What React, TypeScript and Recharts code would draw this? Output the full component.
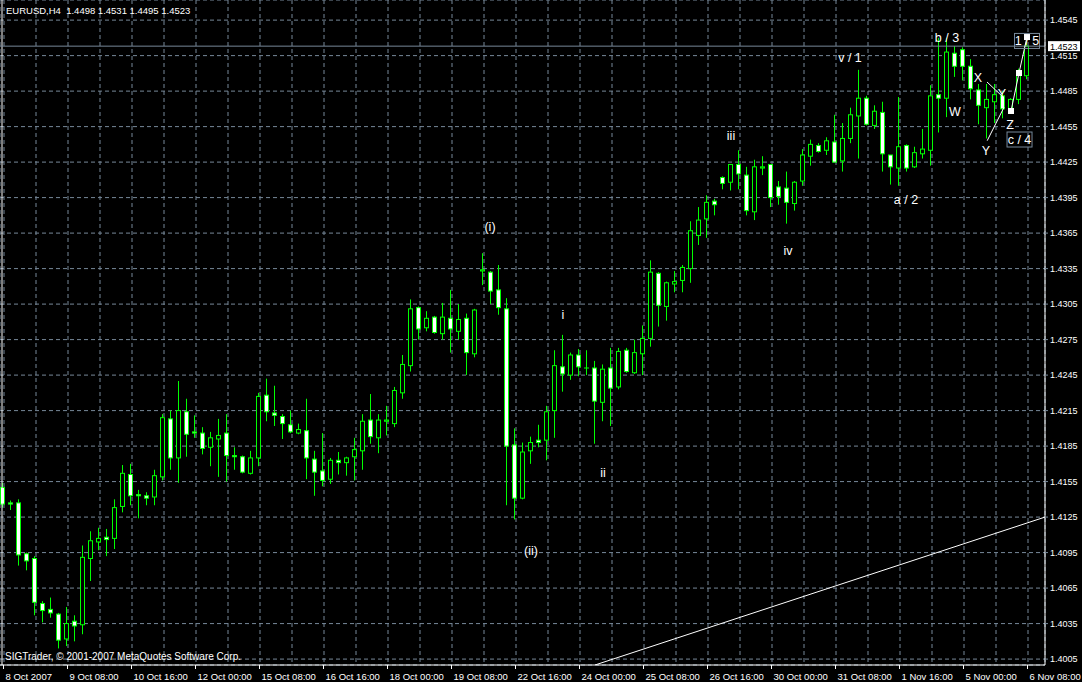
import React from 'react';
import { ComposedChart, Bar, XAxis, YAxis, CartesianGrid, ReferenceLine, ReferenceDot } from 'recharts';

const opens = [1.4150,1.4137,1.4137,1.4094,1.4090,1.4052,1.4047,1.4043,1.4022,1.4037,
1.4034,1.4090,1.4104,1.4108,1.4107,1.4134,1.4161,1.4144,1.4143,1.4142,
1.4159,1.4208,1.4175,1.4214,1.4197,1.4196,1.4184,1.4191,1.4196,1.4177,
1.4176,1.4162,1.4175,1.4228,1.4213,1.4210,1.4203,1.4196,1.4198,1.4174,
1.4164,1.4157,1.4173,1.4171,1.4176,1.4181,1.4207,1.4192,1.4206,1.4204,
1.4230,1.4253,1.4302,1.4285,1.4294,1.4280,1.4293,1.4282,1.4293,1.4263,
1.4333,1.4332,1.4317,1.4301,1.4186,1.4141,1.4181,1.4190,1.4190,1.4215,
1.4252,1.4245,1.4262,1.4251,1.4251,1.4222,1.4251,1.4235,1.4266,1.4247,
1.4263,1.4276,1.4331,1.4303,1.4322,1.4325,1.4335,1.4363,1.4377,1.4392,
1.4412,1.4408,1.4423,1.4414,1.4383,1.4420,1.4423,1.4404,1.4403,1.4390,
1.4409,1.4430,1.4439,1.4435,1.4442,1.4426,1.4445,1.4464,1.4479,1.4456,
1.4467,1.4431,1.4420,1.4439,1.4421,1.4432,1.4435,1.4482,1.4479,1.4517,
1.4520,1.4506,1.4486,1.4471,1.4476,1.4481,1.4469,1.4478,1.4498];

const highs = [1.4154,1.4139,1.4140,1.4095,1.4092,1.4054,1.4057,1.4044,1.4049,1.4042,
1.4101,1.4113,1.4116,1.4115,1.4140,1.4169,1.4170,1.4148,1.4146,1.4165,
1.4212,1.4215,1.4240,1.4225,1.4211,1.4201,1.4197,1.4208,1.4212,1.4184,
1.4177,1.4181,1.4230,1.4242,1.4236,1.4212,1.4215,1.4204,1.4225,1.4181,
1.4196,1.4175,1.4180,1.4176,1.4192,1.4212,1.4229,1.4212,1.4219,1.4235,
1.4262,1.4309,1.4303,1.4299,1.4295,1.4306,1.4317,1.4305,1.4297,1.4301,
1.4348,1.4333,1.4338,1.4310,1.4200,1.4188,1.4193,1.4203,1.4219,1.4266,
1.4279,1.4264,1.4267,1.4266,1.4257,1.4254,1.4268,1.4268,1.4268,1.4275,
1.4287,1.4342,1.4332,1.4324,1.4333,1.4338,1.4375,1.4387,1.4397,1.4394,
1.4413,1.4423,1.4435,1.4421,1.4427,1.4430,1.4423,1.4409,1.4417,1.4409,
1.4436,1.4444,1.4441,1.4446,1.4465,1.4458,1.4471,1.4503,1.4481,1.4473,
1.4476,1.4431,1.4480,1.4440,1.4438,1.4453,1.4490,1.4530,1.4530,1.4523,
1.4522,1.4512,1.4491,1.4491,1.4491,1.4485,1.4479,1.4504,1.4531];

const lows = [1.4133,1.4131,1.4084,1.4080,1.4042,1.4036,1.4040,1.4014,1.4016,1.4020,
1.4026,1.4071,1.4097,1.4092,1.4098,1.4129,1.4135,1.4124,1.4135,1.4135,
1.4156,1.4165,1.4154,1.4176,1.4192,1.4178,1.4168,1.4159,1.4155,1.4165,
1.4162,1.4161,1.4168,1.4206,1.4202,1.4191,1.4196,1.4195,1.4157,1.4143,
1.4151,1.4153,1.4161,1.4160,1.4156,1.4165,1.4187,1.4179,1.4194,1.4201,
1.4225,1.4248,1.4275,1.4282,1.4280,1.4275,1.4264,1.4275,1.4245,1.4260,
1.4321,1.4305,1.4296,1.4135,1.4123,1.4140,1.4170,1.4184,1.4173,1.4192,
1.4231,1.4241,1.4244,1.4245,1.4187,1.4206,1.4202,1.4233,1.4247,1.4246,
1.4245,1.4269,1.4286,1.4291,1.4315,1.4315,1.4323,1.4355,1.4361,1.4380,
1.4402,1.4401,1.4402,1.4380,1.4376,1.4414,1.4387,1.4389,1.4373,1.4384,
1.4405,1.4422,1.4433,1.4431,1.4425,1.4417,1.4441,1.4428,1.4456,1.4453,
1.4417,1.4406,1.4405,1.4417,1.4420,1.4428,1.4422,1.4450,1.4463,1.4497,
1.4494,1.4478,1.4457,1.4445,1.4458,1.4462,1.4467,1.4474,1.4495];

const closes = [1.4136,1.4136,1.4093,1.4088,1.4053,1.4046,1.4044,1.4021,1.4035,1.4033,
1.4091,1.4105,1.4107,1.4106,1.4133,1.4162,1.4143,1.4143,1.4141,1.4160,
1.4209,1.4175,1.4215,1.4195,1.4196,1.4183,1.4192,1.4194,1.4177,1.4176,
1.4163,1.4175,1.4227,1.4214,1.4211,1.4204,1.4197,1.4199,1.4175,1.4163,
1.4156,1.4173,1.4171,1.4175,1.4182,1.4206,1.4193,1.4207,1.4207,1.4232,
1.4254,1.4301,1.4284,1.4293,1.4281,1.4294,1.4284,1.4292,1.4264,1.4300,
1.4334,1.4316,1.4302,1.4185,1.4141,1.4180,1.4188,1.4188,1.4214,1.4253,
1.4246,1.4262,1.4252,1.4251,1.4223,1.4250,1.4234,1.4265,1.4248,1.4264,
1.4276,1.4332,1.4304,1.4323,1.4324,1.4336,1.4367,1.4376,1.4391,1.4389,
1.4407,1.4423,1.4415,1.4384,1.4421,1.4421,1.4395,1.4396,1.4391,1.4408,
1.4431,1.4440,1.4434,1.4443,1.4425,1.4445,1.4465,1.4479,1.4457,1.4468,
1.4432,1.4421,1.4438,1.4420,1.4433,1.4436,1.4481,1.4479,1.4518,1.4506,
1.4506,1.4487,1.4473,1.4478,1.4482,1.4470,1.4478,1.4501,1.4523];

const labelBars = [0, 8, 16, 24, 32, 40, 48, 56, 64, 72, 80, 88, 96, 104, 112, 120, 128];
const labelTexts = ['8 Oct 2007', '9 Oct 08:00', '10 Oct 16:00', '12 Oct 00:00', '15 Oct 08:00',
  '16 Oct 16:00', '18 Oct 00:00', '19 Oct 08:00', '22 Oct 16:00', '24 Oct 00:00', '25 Oct 08:00',
  '26 Oct 16:00', '30 Oct 00:00', '31 Oct 08:00', '1 Nov 16:00', '5 Nov 00:00', '6 Nov 08:00'];
const gridBars = [0,4,8,12,16,20,24,28,32,36,40,44,48,52,56,60,64,68,72,76,80,84,88,92,96,100,104,108,112,116,120,124,128];
const priceTicks = [1.4005,1.4035,1.4065,1.4095,1.4125,1.4155,1.4185,1.4215,1.4245,1.4275,
  1.4305,1.4335,1.4365,1.4395,1.4425,1.4455,1.4485,1.4515,1.4545];

const waveTexts = ['(i)', '(ii)', 'i', 'ii', 'iii', 'iv', 'v / 1', 'a / 2', 'b / 3', 'W', 'X', 'Y', 'Y', 'Z'];
const waveX = [60.75, 65.875, 69.875, 74.875, 90.875, 98, 105.75, 112.75, 117.875, 118.875, 121.75, 122.75, 124.75, 125.75];
const waveY = [1.4371, 1.40964, 1.42966, 1.41631, 1.44479, 1.43507, 1.45138, 1.43938, 1.45307, 1.44674, 1.44961, 1.44344, 1.44834, 1.44572];
const boxTexts = ['c / 4', '1 / 5'];
const boxX = [126.94, 127.875];
const boxY = [1.44441, 1.45274];
const pathX = [125.875, 126.875, 127.875];
const pathY = [1.44682, 1.45003, 1.45307];

const bidPrice = 1.4523;
const trendStart = { x: 73.875, y: 1.4000 };
const trendEnd = { x: 130.125, y: 1.4125 };

const data = opens.map((o, i) => ({
  i,
  open: o,
  high: highs[i],
  low: lows[i],
  close: closes[i],
  range: [lows[i], highs[i]],
}));

const GREEN = '#00ff00';
const GRID = '#778899';
const FONT = '"Liberation Sans", Arial, sans-serif';

const Candle = (props: any) => {
  const { x, y, width, height, payload } = props;
  if (payload == null) return null;
  const { open, close, high, low } = payload;
  const cx = Math.floor(x + width / 2) - 0.5;
  const toY = (p: number) => (high === low ? y : y + ((high - p) / (high - low)) * height);
  const yo = toY(open);
  const yc = toY(close);
  const top = Math.min(yo, yc);
  const bot = Math.max(yo, yc);
  const bear = close < open;
  return (
    <g>
      <line x1={cx} x2={cx} y1={y} y2={y + height} stroke={GREEN} strokeWidth={1} />
      <rect x={cx - 2} y={top} width={4} height={Math.max(bot - top, 0.01)}
        fill={bear ? '#ffffff' : '#000000'} stroke={GREEN} strokeWidth={1} />
    </g>
  );
};

const XTick = (props: any) => {
  const { x, y, payload } = props;
  const idx = labelBars.indexOf(payload.value);
  if (idx < 0) return null;
  const px = Math.floor(x) - 0.5;
  return (
    <g>
      <line x1={px} x2={px} y1={y - 4} y2={y} stroke="#ffffff" strokeWidth={1} />
      <text x={px + 2} y={y + 11} fill="#ffffff" fontSize={9.5} fontFamily={FONT} textAnchor="start">
        {labelTexts[idx]}
      </text>
    </g>
  );
};

const plainLabel = (value: string) => (props: any) => {
  const vb = props.viewBox || {};
  const cx = (vb.x || 0) + (vb.width || 0) / 2;
  const cy = (vb.y || 0) + (vb.height || 0) / 2;
  return (
    <text x={cx} y={cy + 4.5} fill="#ffffff" fontSize={12.5} fontFamily={FONT} textAnchor="middle">
      {value}
    </text>
  );
};

const boxLabel = (value: string) => (props: any) => {
  const vb = props.viewBox || {};
  const cx = (vb.x || 0) + (vb.width || 0) / 2;
  const cy = (vb.y || 0) + (vb.height || 0) / 2;
  return (
    <g>
      <rect x={cx - 12.5} y={cy - 7.5} width={25} height={15} fill="none" stroke={GRID} strokeWidth={1} />
      <text x={cx} y={cy + 4.5} fill="#ffffff" fontSize={12.5} fontFamily={FONT} textAnchor="middle">
        {value}
      </text>
    </g>
  );
};

const bidLabel = (props: any) => {
  const vb = props.viewBox || {};
  const right = (vb.x || 0) + (vb.width || 0);
  const cy = vb.y || 0;
  return (
    <g>
      <rect x={right + 3} y={cy - 5} width={32} height={10} fill="#ffffff" />
      <text x={right + 5} y={cy + 3.5} fill="#000000" fontSize={9} fontFamily={FONT} textAnchor="start">
        {bidPrice.toFixed(4)}
      </text>
    </g>
  );
};

const squareShape = (props: any) => (
  <rect x={props.cx - 3} y={props.cy - 3} width={6} height={6} fill="#ffffff" />
);

export default function App() {
  const header = `EURUSD,H4  ${opens[128].toFixed(4)} ${highs[128].toFixed(4)} ${lows[128].toFixed(4)} ${closes[128].toFixed(4)}`;
  return (
    <div style={{ position: 'absolute', left: 0, top: 0, width: 1082, height: 682, background: '#000000', overflow: 'hidden' }}>
      <ComposedChart width={1082} height={682} data={data} margin={{ top: 0, right: 0, left: 0, bottom: 0 }}>
        <XAxis xAxisId={0} dataKey="i" type="category" ticks={gridBars} interval={0} padding={{ left: 0, right: 13 }}
          height={17} axisLine={{ stroke: '#ffffff' }} tickLine={false} tickSize={4} tickMargin={0} tick={<XTick />} />
        <XAxis xAxisId="num" dataKey="i" type="number" domain={[0, 128]} allowDataOverflow
          padding={{ left: 4, right: 17 }} hide />
        <YAxis yAxisId={0} orientation="right" type="number" domain={[1.4, 1.4562]} allowDataOverflow
          ticks={priceTicks} interval={0} width={37} axisLine={{ stroke: '#ffffff' }}
          tickLine={{ stroke: GRID }} tickSize={3} tickMargin={2}
          tick={{ fill: '#ffffff', fontSize: 9, fontFamily: FONT }}
          tickFormatter={(v: number) => v.toFixed(4)} />
        <CartesianGrid xAxisId={0} yAxisId={0} stroke={GRID} strokeDasharray="4 3" strokeWidth={1} />
        <ReferenceLine xAxisId="num" x={-0.25} stroke="#ffffff" strokeWidth={1} ifOverflow="visible" />
        <ReferenceLine yAxisId={0} y={bidPrice} stroke={GRID} strokeWidth={1} label={bidLabel} />
        <Bar xAxisId={0} yAxisId={0} dataKey="range" shape={<Candle />} isAnimationActive={false} />
        <ReferenceLine xAxisId="num" segment={[trendStart, trendEnd]} stroke="#ffffff" strokeWidth={1} ifOverflow="hidden" />
        <ReferenceLine xAxisId="num" segment={[{ x: 122.875, y: 1.44927 }, { x: 124.875, y: 1.448 }]} stroke="#ffffff" strokeWidth={1} />
        <ReferenceLine xAxisId="num" segment={[{ x: 122.9, y: 1.44431 }, { x: 125.0, y: 1.44713 }]} stroke="#ffffff" strokeWidth={1} />
        <ReferenceLine xAxisId="num" segment={[{ x: pathX[0], y: pathY[0] }, { x: pathX[1], y: pathY[1] }]} stroke="#ffffff" strokeWidth={1} />
        <ReferenceLine xAxisId="num" segment={[{ x: pathX[1], y: pathY[1] }, { x: pathX[2], y: pathY[2] }]} stroke="#ffffff" strokeWidth={1} />
        {boxTexts.map((t, k) => (
          <ReferenceDot key={'b' + k} xAxisId="num" x={boxX[k]} y={boxY[k]} r={0} fill="none" stroke="none" label={boxLabel(t)} />
        ))}
        {pathX.map((px, k) => (
          <ReferenceDot key={'s' + k} xAxisId="num" x={px} y={pathY[k]} r={3} shape={squareShape} />
        ))}
        {waveTexts.map((t, k) => (
          <ReferenceDot key={'w' + k} xAxisId="num" x={waveX[k]} y={waveY[k]} r={0} fill="none" stroke="none" label={plainLabel(t)} />
        ))}
      </ComposedChart>
      <svg width={1082} height={682} style={{ position: 'absolute', left: 0, top: 0, pointerEvents: 'none' }}>
        <text x={6} y={13.5} fill="#ffffff" fontSize={9.5} fontFamily={FONT} style={{ whiteSpace: 'pre' }} xmlSpace="preserve">{header}</text>
        <text x={5} y={660} fill="#ffffff" fontSize={10} fontFamily={FONT}>SIGTrader, © 2001-2007 MetaQuotes Software Corp.</text>
      </svg>
    </div>
  );
}
